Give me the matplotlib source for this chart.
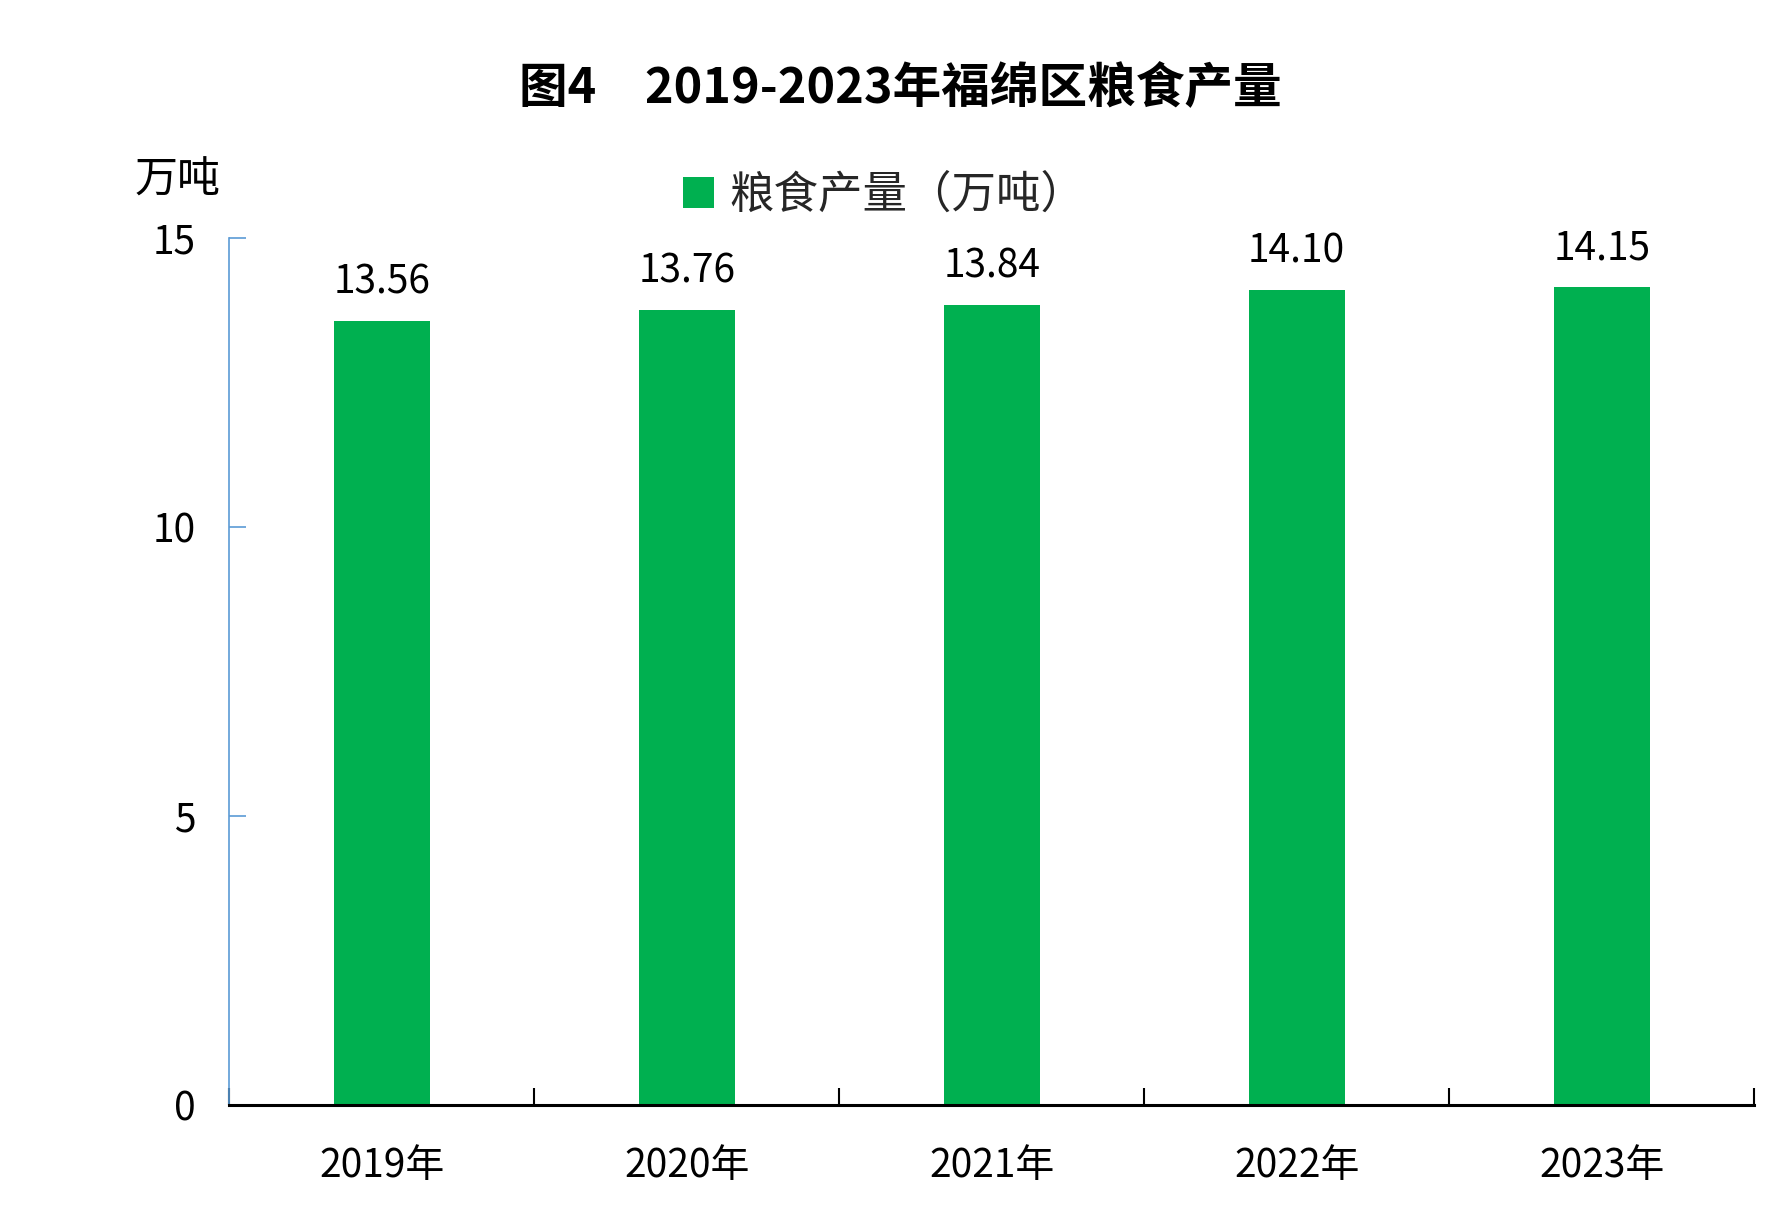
import matplotlib.pyplot as plt
from matplotlib.patches import Patch

plt.rcParams['font.family'] = ['Noto Sans CJK SC', 'DejaVu Sans']

years = ['2019年', '2020年', '2021年', '2022年', '2023年']
grain = [13.56, 13.76, 13.84, 14.10, 14.15]
value_labels = ['13.56', '13.76', '13.84', '14.10', '14.15']

fig = plt.figure(figsize=(17.9, 12.2), dpi=100)
ax = fig.add_axes([0.128, 0.094, 0.852, 0.711])

x = list(range(len(years)))
ax.bar(x, grain, width=0.315, color='#00B050', zorder=2)
for i, v in enumerate(grain):
    ax.text(x[i], v + 0.32, value_labels[i], ha='center', va='bottom', fontsize=28, color='#000000')

ax.set_xlim(-0.5, len(years) - 0.5)
ax.set_ylim(0, 15)
ax.set_yticks([0, 5, 10, 15])
ax.set_yticklabels(['0', '5', '10', '15'], fontsize=28)
ax.set_xticks(x)
ax.set_xticklabels(years, fontsize=28)
ax.set_xticks([i - 0.5 for i in range(len(years) + 1)], minor=True)

ax.tick_params(axis='x', which='major', length=0, pad=29)
ax.tick_params(axis='x', which='minor', direction='in', length=12, width=1.5, color='black')
ax.tick_params(axis='y', direction='in', length=12, width=1.2, color='#5B9BD5', pad=24)

ax.spines['top'].set_visible(False)
ax.spines['right'].set_visible(False)
ax.spines['left'].set_color('#5B9BD5')
ax.spines['left'].set_linewidth(1.2)
ax.spines['bottom'].set_color('black')
ax.spines['bottom'].set_linewidth(2.2)

fig.text(0.503, 0.927, '图4\u30002019-2023年福绵区粮食产量', ha='center', va='center',
         fontsize=35, fontweight='bold', color='#000000')
fig.text(0.099, 0.852, '万吨', ha='center', va='center', fontsize=31, color='#000000')

handle = Patch(facecolor='#00B050', edgecolor='none')
fig.legend([handle], ['粮食产量（万吨）'], loc='center', bbox_to_anchor=(0.494, 0.84),
           frameon=False, fontsize=32, handlelength=0.7, handleheight=0.7, handletextpad=0.35,
           labelcolor='#262626')

fig.savefig('out.png', dpi=100, facecolor='white')
